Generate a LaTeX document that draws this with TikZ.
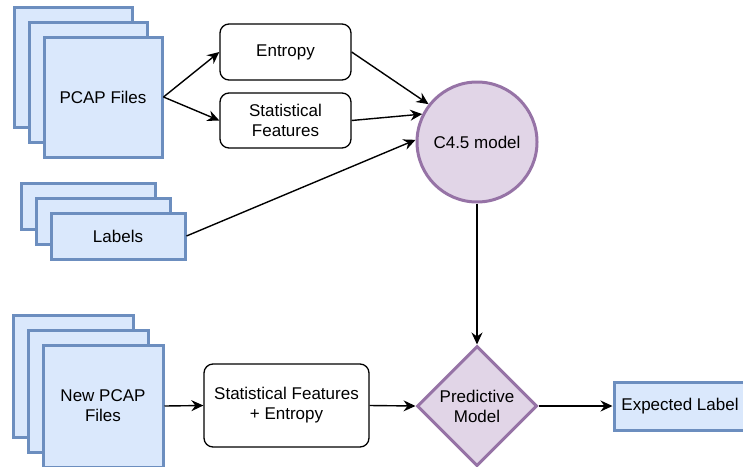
\documentclass[tikz,border=0pt]{standalone}
\usepackage{fontspec}
\setmainfont{Liberation Sans}
\usetikzlibrary{shapes.geometric,arrows.meta}
\definecolor{fileblue}{HTML}{DAE8FC}
\definecolor{fileedge}{HTML}{6C8EBF}
\definecolor{modelfill}{HTML}{E1D5E7}
\definecolor{modeledge}{HTML}{9673A6}
\begin{document}
\begin{tikzpicture}[x=1pt,y=-1pt,
  every node/.style={font=\fontsize{17}{20}\selectfont, align=center, text=black},
  page/.style={draw=fileedge, fill=fileblue, line width=3pt, inner sep=0pt},
  stepbox/.style={draw=black, fill=white, rounded corners=9pt, line width=1.3pt, inner sep=0pt},
  model/.style={draw=modeledge, fill=modelfill, line width=3pt, inner sep=0pt},
  conn/.style={-{Stealth[length=12pt,width=11pt,inset=4pt]}, line width=1.4pt, black}]
\useasboundingbox (0,0) rectangle (743,466);
\clip (0,0) rectangle (743,466);

% stack of PCAP files
\node[page, minimum width=118pt, minimum height=120pt] (pcapC) at (73,67) {};
\node[page, minimum width=118pt, minimum height=120pt] (pcapB) at (88,82) {};
\node[page, minimum width=118pt, minimum height=120pt] (pcap) at (103,97) {PCAP Files};

% stack of labels
\node[page, minimum width=134pt, minimum height=46pt] (labelsC) at (88,206) {};
\node[page, minimum width=134pt, minimum height=46pt] (labelsB) at (103,221) {};
\node[page, minimum width=134pt, minimum height=46pt] (labels) at (118,236) {Labels};

% stack of new PCAP files
\node[page, minimum width=120pt, minimum height=122pt] (newC) at (73,376) {};
\node[page, minimum width=120pt, minimum height=122pt] (newB) at (88,391) {};
\node[page, minimum width=120pt, minimum height=122pt] (newpcap) at (103,406) {New PCAP\\Files};

% feature extraction
\node[stepbox, minimum width=131pt, minimum height=56pt] (entropy) at (285.5,52) {Entropy};
\node[stepbox, minimum width=131pt, minimum height=55pt] (stats) at (285.5,120.5) {Statistical\\Features};
\node[stepbox, minimum width=165pt, minimum height=83pt] (statent) at (286.5,405.5) {Statistical Features\\+ Entropy};

% models
\node[model, circle, minimum size=120pt] (c45) at (477,142) {C4.5 model};
\node[model, diamond, minimum width=120pt, minimum height=120pt] (pred) at (477,406) {Predictive\\Model};

% output
\node[page, minimum width=132pt, minimum height=48pt] (expl) at (680,406) {Expected Label};

% connectors
\draw[conn] (pcap.east) -- (entropy.west);
\draw[conn] (pcap.east) -- (stats.west);
\draw[conn] (entropy.east) -- (c45.142);
\draw[conn] (stats.east) -- (c45.153);
\draw[conn] (labels.east) -- (c45.178);
\draw[conn] (c45.south) -- (pred.north);
\draw[conn] (newpcap.east) -- (statent.west);
\draw[conn] (statent.east) -- (pred.west);
\draw[conn] (pred.east) -- (expl.west);
\end{tikzpicture}
\end{document}
